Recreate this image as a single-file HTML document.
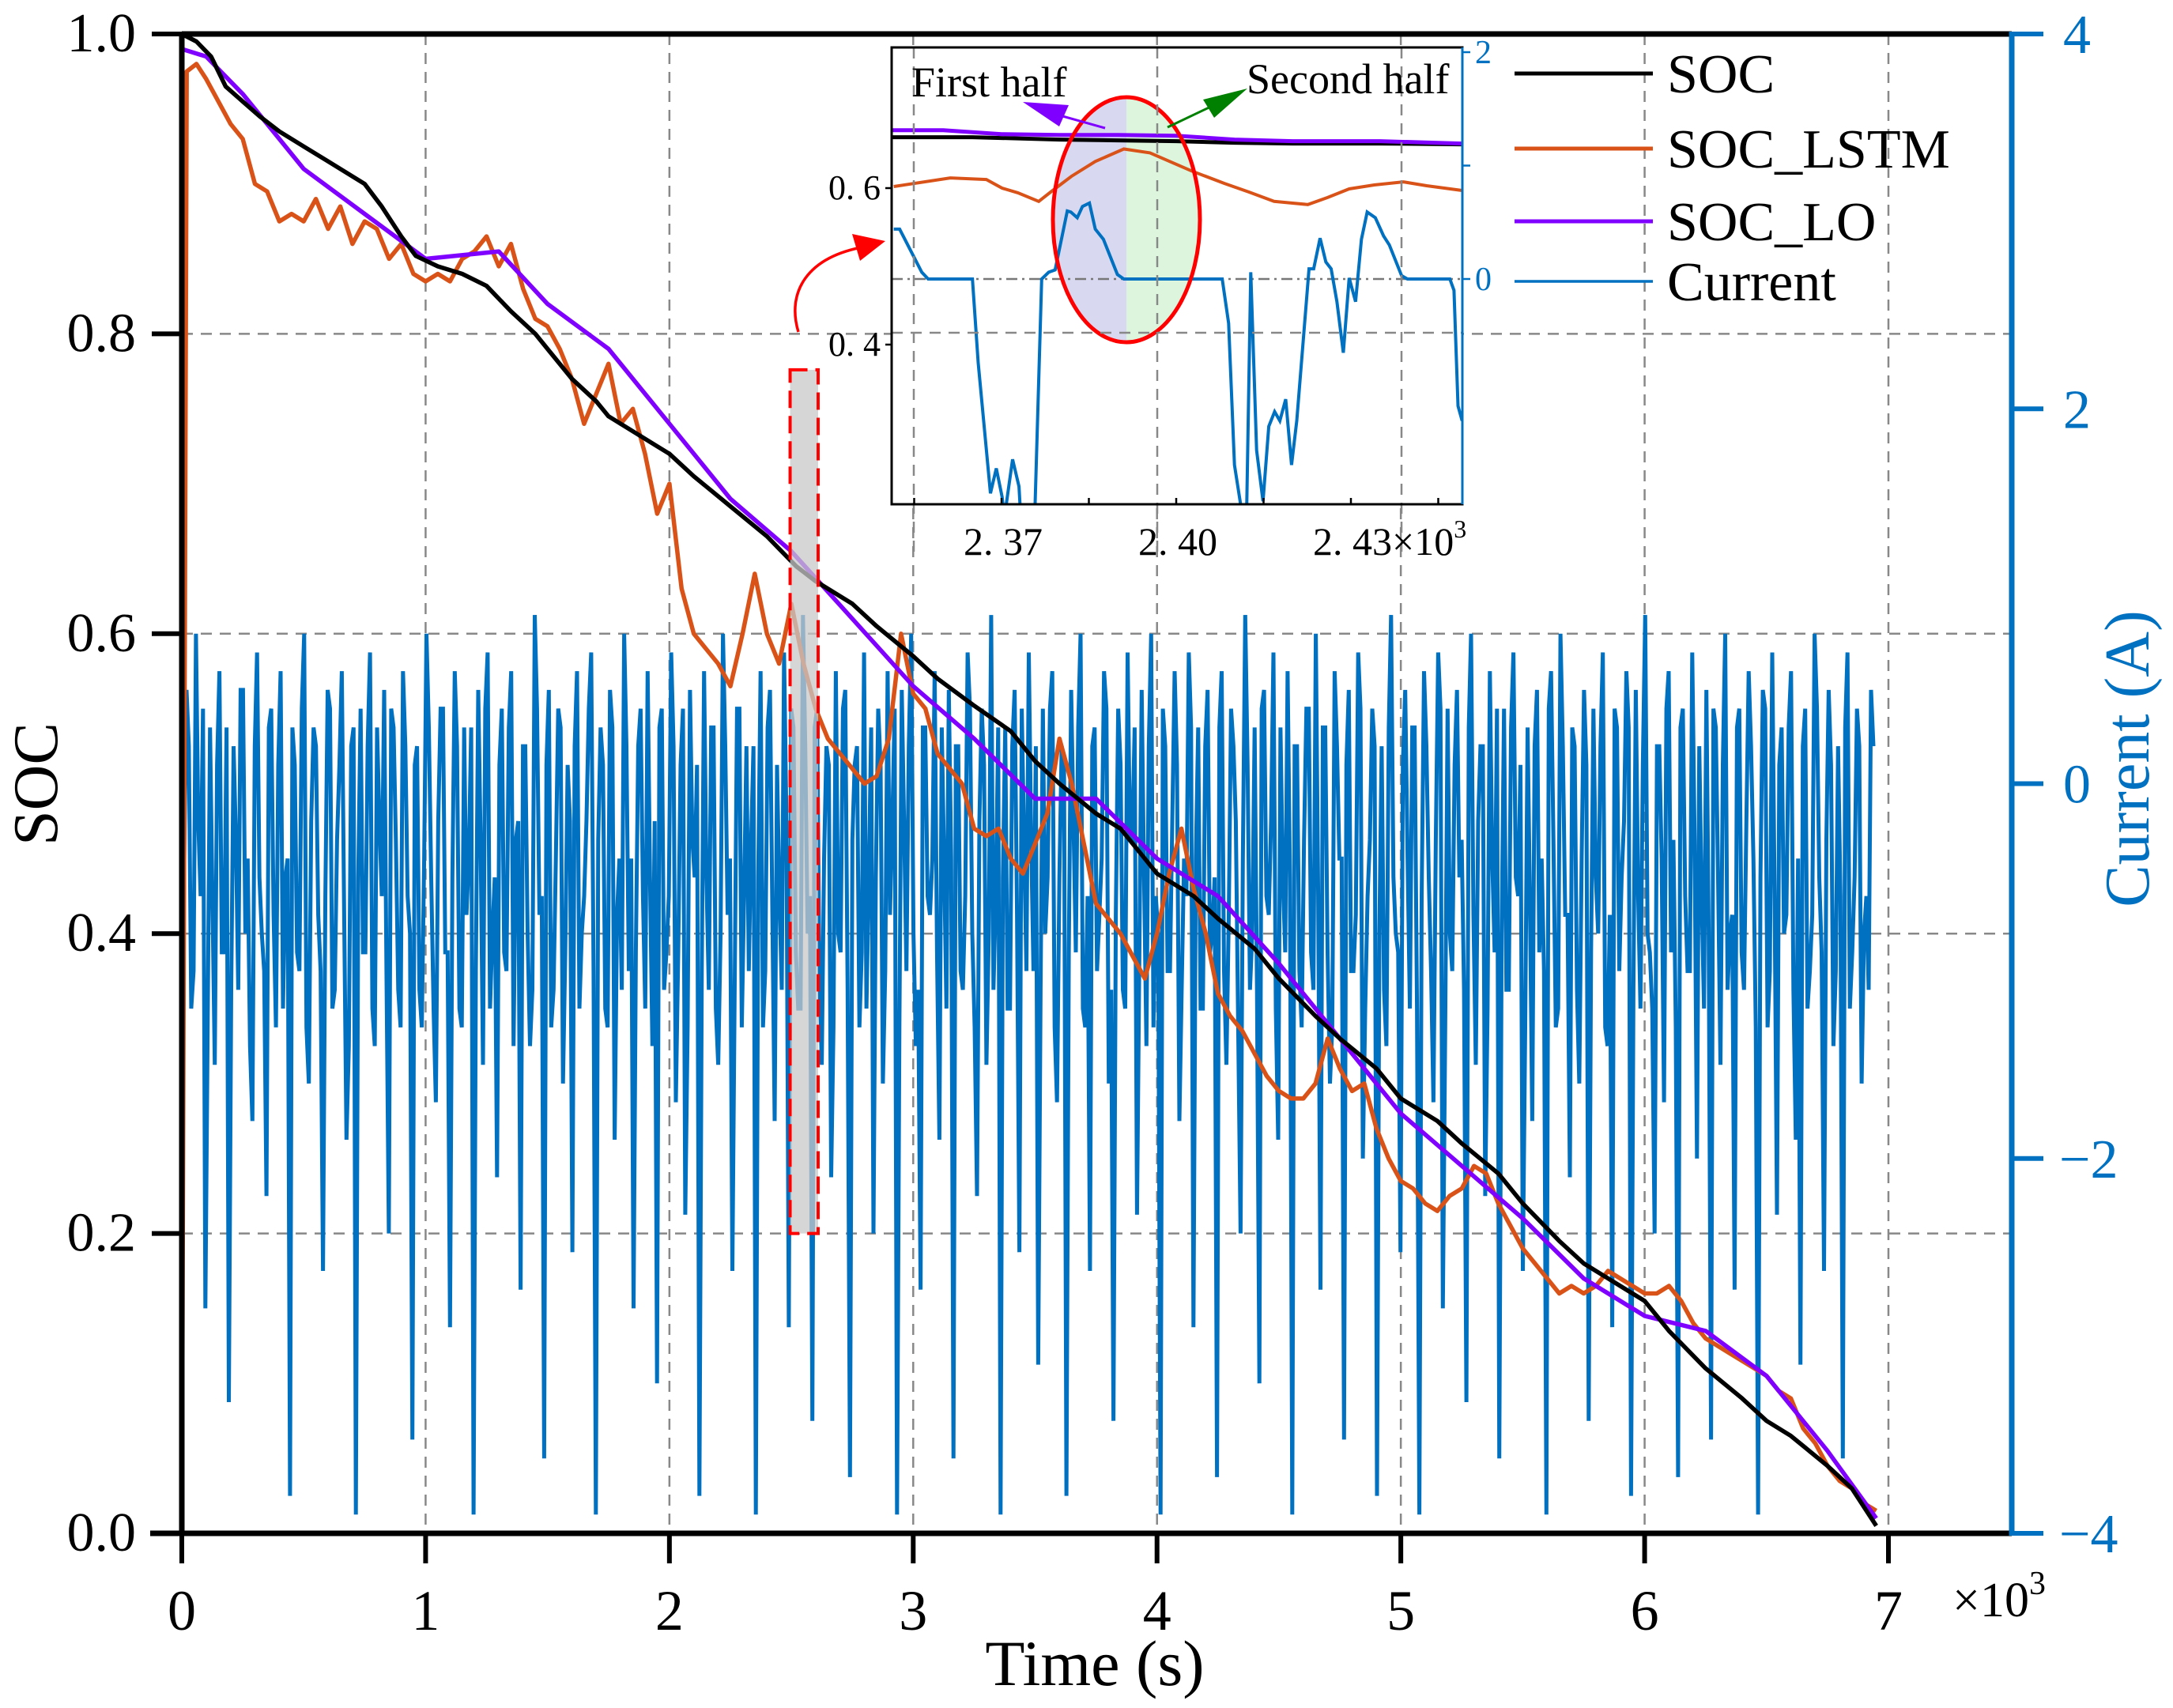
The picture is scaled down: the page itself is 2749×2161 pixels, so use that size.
<!DOCTYPE html>
<html><head><meta charset="utf-8">
<style>
html,body{margin:0;padding:0;background:#fff;}
svg{display:block;font-family:"Liberation Serif","Times New Roman",serif;}
</style></head>
<body>
<svg id="chart" width="2749" height="2161" viewBox="0 0 2749 2161" xmlns="http://www.w3.org/2000/svg">
<rect x="0" y="0" width="2749" height="2161" fill="#fff"/>
</svg>
<script>
// ---------- DATA ----------
const xTicks = [0,1000,2000,3000,4000,5000,6000,7000];
const xTickLabels = ["0","1","2","3","4","5","6","7"];
const socTicks = [0,0.2,0.4,0.6,0.8,1.0];
const socTickLabels = ["0.0","0.2","0.4","0.6","0.8","1.0"];
const curTicks = [-4,-2,0,2,4];
const curTickLabels = ["\u22124","\u22122","0","2","4"];

const socTime = [0,60,120,180,250,320,400,500,600,700,750,820,900,960,1050,1150,1250,1350,1450,1500,1600,1700,1750,1850,1950,2000,2100,2250,2400,2520,2600,2750,2850,3000,3100,3250,3400,3500,3600,3750,3850,4000,4150,4250,4400,4500,4650,4750,4900,5000,5150,5250,5400,5500,5650,5750,5900,6000,6100,6250,6400,6500,6600,6750,6850,6950];
const socValues = [1.0,0.995,0.985,0.965,0.955,0.945,0.935,0.925,0.915,0.905,0.9,0.885,0.865,0.852,0.845,0.84,0.832,0.815,0.8,0.79,0.77,0.755,0.745,0.735,0.725,0.72,0.705,0.685,0.665,0.645,0.635,0.62,0.605,0.585,0.57,0.552,0.535,0.515,0.5,0.48,0.47,0.44,0.425,0.41,0.39,0.37,0.345,0.33,0.31,0.29,0.275,0.26,0.24,0.22,0.195,0.18,0.165,0.155,0.135,0.11,0.09,0.075,0.065,0.045,0.03,0.005];

const loTime = [0,100,250,500,750,1000,1300,1500,1750,2000,2250,2500,2750,3000,3250,3500,3750,4000,4250,4500,4750,5000,5250,5500,5750,6000,6250,6500,6750,6950];
const loValues = [0.99,0.985,0.96,0.91,0.88,0.85,0.855,0.82,0.79,0.74,0.69,0.655,0.61,0.565,0.53,0.49,0.49,0.45,0.425,0.38,0.33,0.28,0.245,0.21,0.17,0.145,0.135,0.105,0.055,0.01];

const lstmTime = [0,20,60,100,150,200,250,300,350,400,450,500,550,600,650,700,750,800,850,900,950,1000,1050,1100,1150,1200,1250,1300,1350,1400,1450,1500,1550,1600,1650,1700,1750,1800,1850,1900,1950,2000,2050,2100,2150,2200,2250,2300,2350,2400,2450,2500,2550,2600,2650,2700,2750,2800,2850,2900,2950,3000,3050,3100,3150,3200,3250,3300,3350,3400,3450,3500,3550,3600,3650,3700,3750,3800,3850,3900,3950,4000,4050,4100,4150,4200,4250,4300,4350,4400,4450,4500,4550,4600,4650,4700,4750,4800,4850,4900,4950,5000,5050,5100,5150,5200,5250,5300,5350,5400,5450,5500,5550,5600,5650,5700,5750,5800,5850,5900,5950,6000,6050,6100,6150,6200,6250,6300,6350,6400,6450,6500,6550,6600,6650,6700,6750,6800,6850,6900,6950];
const lstmValues = [0.0,0.975,0.98,0.97,0.955,0.94,0.93,0.9,0.895,0.875,0.88,0.875,0.89,0.87,0.885,0.86,0.875,0.87,0.85,0.86,0.84,0.835,0.84,0.835,0.85,0.855,0.865,0.845,0.86,0.83,0.81,0.805,0.79,0.77,0.74,0.76,0.78,0.74,0.75,0.72,0.68,0.7,0.63,0.6,0.59,0.58,0.565,0.6,0.64,0.6,0.58,0.62,0.58,0.55,0.53,0.52,0.51,0.5,0.505,0.53,0.6,0.56,0.55,0.52,0.51,0.5,0.47,0.465,0.47,0.45,0.44,0.46,0.48,0.53,0.5,0.46,0.42,0.41,0.4,0.385,0.37,0.4,0.44,0.47,0.43,0.4,0.36,0.345,0.335,0.32,0.305,0.295,0.29,0.29,0.3,0.33,0.31,0.295,0.3,0.27,0.25,0.235,0.23,0.22,0.215,0.225,0.23,0.245,0.24,0.22,0.205,0.19,0.18,0.17,0.16,0.165,0.16,0.165,0.175,0.17,0.165,0.16,0.16,0.165,0.155,0.14,0.13,0.125,0.12,0.115,0.11,0.105,0.095,0.09,0.07,0.06,0.045,0.035,0.03,0.02,0.015];

const curDt = 19.3;
const curValues = [
-2.0,0.5,-1.2,0.8,-0.6,-2.8,0.3,-1.5,0.6,-0.9,-3.3,0.2,-1.1,0.5,-0.4,-1.8,0.7,-0.8,-2.2,0.4,
-1.3,0.6,-0.5,-3.8,0.1,-1.0,0.8,-1.6,0.3,-0.7,-2.6,0.5,-1.2,-0.3,0.6,-1.9,0.2,-3.9,0.4,-0.9,
0.7,-1.4,-0.2,0.5,-2.4,0.3,-1.1,0.6,-0.6,-3.5,0.2,-1.3,0.8,-0.5,-1.7,0.4,-0.9,-2.9,0.6,-1.2,
0.3,-0.4,-3.9,0.5,-1.5,0.7,-0.8,-2.1,0.4,-1.0,0.6,-0.3,-2.7,0.2,-1.4,0.9,-0.7,-3.6,0.5,-1.1,
0.4,-1.6,0.1,-2.5,0.6,-0.8,-0.2,0.7,-3.9,0.3,-1.2,0.5,-1.9,-0.4,0.8,-1.0,-2.8,0.2,-0.6,0.6,
-1.4,-3.2,0.4,-0.9,0.7,-1.7,0.1,-2.3,0.5,-0.5,-3.8,0.6,-1.1,0.3,-1.5,0.8,-0.7,-2.6,0.4,-1.3,
0.2,-0.3,-3.9,0.6,-1.0,0.5,-1.8,-0.6,0.7,-2.9,0.3,-1.2,0.9,-0.8,-3.4,0.4,-1.5,0.2,-2.1,0.6,
-0.9,0.5,-3.7,0.1,-1.3,0.7,-0.5,-2.4,0.4,-1.6,0.6,-0.2,-3.9,0.5,-1.0,0.8,-1.4,-2.7,0.3,-0.7,
0.6,-1.9,-0.4,0.5,-3.6,0.2,-1.1,0.7,-0.8,-2.2,0.4,-1.5,0.9,-0.6,-3.9,0.3,-1.2,0.5,-2.5,-0.3,
0.7,-1.0,-3.1,0.4,-0.5,0.6,-1.7,0.2,-3.8,0.5,-0.9,0.8,-1.3,-2.6,0.3,-0.7,0.6,-1.6,-3.4,0.4,
-1.1,0.7,-0.3,-2.3,0.5,-1.4,0.8,-0.6,-3.9,0.2,-1.0,0.6,-1.8,-0.4,0.7,-2.9,0.3,-1.2,0.5,-0.8,
-3.7,0.6,-1.5,0.4,-0.2,-2.4,0.9,-1.1,0.3,-3.2,0.5,-0.7,0.7,-1.9,-0.5,0.6,-3.9,0.2,-1.3,0.4,
-0.9,0.8,-2.7,0.3,-1.6,0.6,-0.4,-3.5,0.5,-1.0,0.7,-2.0,-0.6,0.4,-3.8,0.2,-1.4,0.9,-0.8,-2.5,
0.5,-1.2,0.3,-3.9,0.6,-0.5,-1.7,0.7,-2.8,0.4,-1.0,0.5,-0.3,-3.3,0.8,-1.5,0.2,-2.2,0.6,-0.9,
-3.6,0.4,-1.1,0.7,-0.6,-2.6,0.3,-1.8,0.5,-0.4,-3.9,0.6,-1.3,0.8,-0.7,-2.1,0.2,-1.6,0.5,-3.4,
0.4,-0.8,0.7,-1.4,-2.9,0.3,-0.5,0.6,-3.8,0.5,-1.2,0.9,-0.9,-2.4,0.2,-1.7,0.6,-0.3,-3.7,0.4,
-1.0,0.7,-2.0,-0.6,0.5,-3.5,0.3,-1.5,0.8,-0.8,-2.7,0.4,-1.1,0.6,-0.4,-3.9,0.5,-1.3,0.7,-2.3,
0.3,-0.7,0.6,-1.9,-3.1,0.4,-1.0,0.8,-0.5,-2.6,0.5,-1.4,0.2,-3.6,0.7,-0.9,0.4,-1.6,-0.6,0.5
];
const curValuesMid = [
-0.4,0.2,-1.0,-0.2,0.4,-1.3,-0.6,0.1,-0.9,0.3,-1.1,-0.3,0.5,-0.8,-1.4,0.2,-0.5,-1.0,0.3,-0.7,
0.1,-1.2,-0.4,0.3,-0.9,0.4,-1.3,-0.2,0.2,-1.0,-0.6,0.4,-1.1,0.1,-0.7,-1.4,0.3,-0.5,-0.9,0.2,
-1.2,0.3,-0.6,-1.0,0.4,-0.3,-1.3,0.2,-0.8,0.1,-1.1,-0.4,0.3,-1.2,-0.2,0.4,-0.9,-0.5,0.2,-1.3,
-0.7,0.3,-1.0,-0.3,0.4,-1.2,-0.5,0.1,-0.9,0.3,-1.4,-0.2,0.2,-0.8,-1.1,0.4,-0.6,0.1,-1.3,-0.4,
0.3,-0.9,-0.2,0.2,-1.2,-0.6,0.4,-1.0,-0.3,0.1,-1.3,0.3,-0.7,-1.1,0.2,-0.4,-0.9,0.4,-1.2,-0.5,
-0.2,0.3,-1.1,-0.6,0.2,-0.9,0.4,-1.3,-0.3,0.1,-1.0,-0.5,0.3,-1.2,-0.8,0.2,-0.4,-1.1,0.4,-0.6,
-1.0,0.2,-0.5,-1.3,0.3,-0.7,0.1,-1.1,-0.2,0.4,-0.9,-1.2,0.2,-0.6,0.3,-1.0,-0.4,0.1,-1.3,-0.8,
0.4,-1.1,-0.3,0.2,-0.9,-1.2,0.3,-0.5,0.1,-1.0,-0.7,0.4,-1.3,-0.2,0.2,-0.8,-1.1,0.3,-0.6,-0.4,
-0.9,0.3,-1.2,-0.4,0.2,-1.0,-0.6,0.4,-1.3,-0.2,0.1,-0.8,-1.1,0.3,-0.5,-1.2,0.2,-0.7,0.4,-1.0,
-0.3,0.2,-1.1,-0.8,0.4,-1.3,-0.5,0.1,-0.9,-0.2,0.3,-1.2,-0.6,0.2,-1.0,-0.4,0.4,-1.1,-0.7,0.1,
-1.2,-0.3,0.3,-0.9,-0.5,0.2,-1.3,-0.8,0.4,-1.0,-0.2,0.1,-1.1,-0.6,0.3,-0.4,-1.2,0.2,-0.9,-0.5,
0.3,-1.0,-0.7,0.2,-1.3,-0.4,0.1,-0.8,-1.1,0.4,-0.6,-0.2,-1.2,0.3,-0.9,-0.5,0.2,-1.0,-0.3,0.4,
-1.1,-0.6,0.3,-0.9,-1.3,0.2,-0.4,0.1,-1.0,-0.7,0.4,-1.2,-0.3,0.2,-0.8,-1.1,0.3,-0.5,-0.9,0.1,
-0.4,0.3,-1.2,-0.6,0.2,-1.0,-0.3,0.4,-1.3,-0.8,0.1,-0.5,-1.1,0.3,-0.7,-0.2,0.2,-1.2,-0.4,0.4,
-0.8,-1.1,0.3,-0.5,0.1,-1.3,-0.6,0.2,-0.9,-1.0,0.4,-0.3,-1.2,0.2,-0.7,0.3,-1.1,-0.4,0.1,-0.9,
-0.5,0.2,-1.3,-0.7,0.4,-1.0,-0.2,0.3,-1.1,-0.6,0.1,-0.8,-1.2,0.2,-0.4,0.4,-0.9,-1.3,0.3,-0.6,
-1.0,-0.3,0.2,-1.2,-0.8,0.4,-0.5,0.1,-1.1,-0.7,0.3,-0.9,-0.2,0.2,-1.3,-0.5,0.4,-1.0,-0.6,0.1,
-0.8,0.3,-1.1,-0.4,0.2,-1.2,-0.7,0.4,-0.9,-0.3,0.1,-1.0,-0.6,0.3,-1.2,-0.5,0.2,-0.8,-1.1,0.2
];

// inset data
const insetXTicks = [2355,2370,2385,2400,2415,2430,2445];
const insetXLabels = {2370:"2. 37",2400:"2. 40",2430:"2. 43\u00D710"};
const insetSocTicks = [0.4,0.6];
const insetSocLabels = ["0. 4","0. 6"];
const insetCurTicks = [0,1,2];
const insetCurLabels = {0:"0",2:"2"};
const inSocTime = [2351,2365,2380,2390,2400,2410,2420,2435,2449];
const inSocValues = [0.665,0.665,0.662,0.661,0.66,0.658,0.657,0.657,0.656];
const inLoTime = [2351,2360,2370,2380,2390,2400,2410,2420,2435,2449];
const inLoValues = [0.674,0.674,0.669,0.668,0.668,0.667,0.662,0.66,0.66,0.657];
const inLstmTime = [2351.5,2361.2,2367.4,2370.1,2372.8,2376.4,2378.6,2382,2386.1,2391,2395.5,2402.6,2408.3,2412.5,2416.8,2422.6,2426,2429.7,2434,2439,2443,2449.1];
const inLstmValues = [0.602,0.613,0.611,0.6,0.594,0.583,0.596,0.615,0.634,0.65,0.645,0.622,0.606,0.595,0.583,0.579,0.588,0.599,0.604,0.608,0.603,0.597];
const inCurTime = [2351.5,2352.5,2356.3,2357.4,2365.0,2366.0,2368.1,2369.1,2370.1,2370.5,2371.9,2373.0,2373.3,2375.7,2376.9,2378.1,2379.2,2381.3,2381.9,2383.0,2383.9,2385.1,2386.1,2387.5,2389.9,2391.0,2406.9,2407.9,2409.0,2410.0,2411.4,2412.1,2412.8,2413.8,2414.9,2415.9,2416.9,2417.8,2418.8,2419.8,2420.7,2422.8,2423.6,2424.7,2425.7,2426.6,2427.6,2428.7,2429.7,2430.8,2431.8,2432.8,2434.2,2435.6,2436.6,2438.7,2439.7,2447.0,2447.7,2448.4,2449.1];
const inCurValues = [0.44,0.44,0.06,0.0,0.0,-0.74,-1.89,-1.67,-1.92,-2.1,-1.59,-1.83,-2.1,-2.1,0.0,0.06,0.08,0.6,0.59,0.54,0.64,0.67,0.44,0.35,0.04,0.0,0.0,0.0,-0.39,-1.64,-2.1,-2.05,0.06,-1.51,-1.96,-1.3,-1.17,-1.25,-1.06,-1.64,-1.25,0.09,0.09,0.36,0.15,0.09,-0.2,-0.65,0.01,-0.2,0.35,0.59,0.54,0.38,0.3,0.03,0.0,0.0,-0.1,-1.12,-1.25];

// ---------- DRAW ----------
const NS = "http://www.w3.org/2000/svg";
const svg = document.getElementById("chart");
function mk(tag, attrs, parent){ const e=document.createElementNS(NS,tag); for(const k in attrs) e.setAttribute(k,attrs[k]); (parent||svg).appendChild(e); return e; }

const L=230,R=2545,T=43,B=1940;
const xS = t => L + t*(2389-L)/7000;
const yS = v => B - v*(B-T);
const yC = c => B - (c+4)*(B-T)/8;
const BLUE="#0070C0";

const defs = mk("defs",{});
const cp = mk("clipPath",{id:"plotclip"},defs); mk("rect",{x:L,y:T,width:R-L,height:B-T},cp);
const cp2 = mk("clipPath",{id:"insetclip"},defs);

const grid = mk("g",{});


xTicks.slice(1).forEach(t=>{ const l=mk("line",{x1:xS(t),x2:xS(t),y1:T,y2:B,stroke:"#888","stroke-width":2.5,"stroke-dasharray":"14,10"},grid);
 });
socTicks.slice(1,5).forEach(v=>{ const l=mk("line",{x1:L,x2:R,y1:yS(v),y2:yS(v),stroke:"#888","stroke-width":2.5,"stroke-dasharray":"14,10"},grid);
 });

let d="";
curValues.forEach((c,i)=>{
  d+=(i?"L":"M")+xS(i*curDt).toFixed(1)+","+yC(c).toFixed(1);
  if(i<curValuesMid.length) d+="L"+xS((i+0.5)*curDt).toFixed(1)+","+yC(curValuesMid[i]).toFixed(1);
});
const curPath = mk("path",{d:d,fill:"none",stroke:BLUE,"stroke-width":5,"stroke-linejoin":"miter","clip-path":"url(#plotclip)"});



function pathFrom(ts,vs,fx,fy){ return ts.map((t,i)=>(i?"L":"M")+fx(t).toFixed(1)+","+fy(vs[i]).toFixed(1)).join(""); }
const lstm = mk("path",{d:pathFrom(lstmTime,lstmValues,xS,yS),fill:"none",stroke:"#D95319","stroke-width":5.5,"stroke-linejoin":"round"});


const lo = mk("path",{d:pathFrom(loTime,loValues,xS,yS),fill:"none",stroke:"#8000FF","stroke-width":5.5,"stroke-linejoin":"round"});


const soc = mk("path",{d:pathFrom(socTime,socValues,xS,yS),fill:"none",stroke:"#000","stroke-width":5.5,"stroke-linejoin":"round"});



const hl = mk("rect",{x:xS(2495),y:yS(0.776),width:xS(2610)-xS(2495),height:yS(0.2)-yS(0.776),fill:"rgba(200,200,200,0.75)",stroke:"#f00","stroke-width":4,"stroke-dasharray":"22,10"});


const arr = mk("path",{d:"M1010,420 C995,370 1020,325 1095,312",fill:"none",stroke:"#f00","stroke-width":3.5});


const arrH = mk("polygon",{points:"1120,305 1078,296 1088,330",fill:"#f00"});



const axes = mk("g",{});


mk("line",{x1:L,x2:R,y1:T,y2:T,stroke:"#000","stroke-width":7},axes);
mk("line",{x1:L-40,x2:R,y1:B,y2:B,stroke:"#000","stroke-width":7},axes);
mk("line",{x1:L,x2:L,y1:T-3,y2:B+3,stroke:"#000","stroke-width":7},axes);
mk("line",{x1:R,x2:R,y1:T-3,y2:B+3,stroke:BLUE,"stroke-width":7},axes);
xTicks.forEach((t,i)=>{
  mk("line",{x1:xS(t),x2:xS(t),y1:B,y2:B+38,stroke:"#000","stroke-width":6},axes);
  const tx=mk("text",{x:xS(t),y:2062,"font-size":72,"text-anchor":"middle",fill:"#000"},axes); tx.textContent=xTickLabels[i];
   
});
socTicks.forEach((v,i)=>{
  mk("line",{x1:L-38,x2:L,y1:yS(v),y2:yS(v),stroke:"#000","stroke-width":6},axes);
  const tx=mk("text",{x:172,y:yS(v)+22,"font-size":70,"text-anchor":"end",fill:"#000"},axes); tx.textContent=socTickLabels[i];
   
});
curTicks.forEach((c,i)=>{
  mk("line",{x1:R,x2:R+40,y1:yC(c),y2:yC(c),stroke:BLUE,"stroke-width":6},axes);
  const tx=mk("text",{x:c<0?2605:2610,y:yC(c)+24,"font-size":70,"text-anchor":"start",fill:BLUE},axes); tx.textContent=curTickLabels[i];
   
});
</script>
<script>
(function(){
const NS="http://www.w3.org/2000/svg", svg=document.getElementById("chart");
function mk(tag, attrs, parent){ const e=document.createElementNS(NS,tag); for(const k in attrs) e.setAttribute(k,attrs[k]); (parent||svg).appendChild(e); return e; }
const BLUE="#0070C0";
let t;
t=mk("text",{x:2470,y:2045,"font-size":62}); t.innerHTML='\u00D710<tspan dy="-28" font-size="42">3</tspan>';
 
t=mk("text",{x:1385,y:2132,"font-size":82,"text-anchor":"middle"}); t.textContent="Time (s)";
 
t=mk("text",{x:0,y:0,"font-size":80,"text-anchor":"middle",transform:"translate(72,992) rotate(-90)"}); t.textContent="SOC";
 
t=mk("text",{x:0,y:0,"font-size":80,"text-anchor":"middle",fill:BLUE,transform:"translate(2718,960) rotate(-90)"}); t.textContent="Current (A)";
 

const leg=[["SOC","#000",93,5],["SOC_LSTM","#D95319",188,5],["SOC_LO","#8000FF",280,5],["Current",BLUE,356,3.5]];
const lg=mk("g",{});
 
leg.forEach(e=>{
  const g=mk("g",{},lg);
   
  mk("line",{x1:1916,x2:2091,y1:e[2],y2:e[2],stroke:e[1],"stroke-width":e[3]},g);
  const tx=mk("text",{x:2109,y:e[2]+24,"font-size":70},g); tx.textContent=e[0];
});

const IL=1128,IR=1850,IT=60,IB=638;
const ix = v => 1267 + (v-2370)*(221/30);
const iy = v => 238 - (v-0.6)*990;
const ic = c => 353 - c*143.5;
const ins=mk("g",{});
 
mk("rect",{x:IL,y:IT,width:IR-IL,height:IB-IT,fill:"#fff"},ins);
const cr=document.createElementNS(NS,"rect");
cr.setAttribute("x",IL);cr.setAttribute("y",IT);cr.setAttribute("width",IR-IL);cr.setAttribute("height",IB-IT);
document.getElementById("insetclip").appendChild(cr);
const ig=mk("g",{"clip-path":"url(#insetclip)"},ins);
const cx=1425,cy=278,rx=93,ry=155;
const e1=mk("path",{d:`M${cx},${cy-ry} A${rx},${ry} 0 0 0 ${cx},${cy+ry} Z`,fill:"#D8D8F0"},ig);
 
const e2=mk("path",{d:`M${cx},${cy-ry} A${rx},${ry} 0 0 1 ${cx},${cy+ry} Z`,fill:"#DDF5DD"},ig);
 
mk("line",{x1:IL,x2:IR,y1:ic(0),y2:ic(0),stroke:"#777","stroke-width":2.5,"stroke-dasharray":"14,6,3,6"},ig);
function pf(ts,vs,fx,fy){return ts.map((q,i)=>(i?"L":"M")+fx(q).toFixed(1)+","+fy(vs[i]).toFixed(1)).join("");}
let p;
p=mk("path",{d:pf(inCurTime,inCurValues,ix,ic),fill:"none",stroke:BLUE,"stroke-width":4},ig);
 
p=mk("path",{d:pf(inLstmTime,inLstmValues,ix,iy),fill:"none",stroke:"#D95319","stroke-width":4},ig);
 
p=mk("path",{d:pf(inSocTime,inSocValues,ix,iy),fill:"none",stroke:"#000","stroke-width":5},ig);
 
p=mk("path",{d:pf(inLoTime,inLoValues,ix,iy),fill:"none",stroke:"#8000FF","stroke-width":5},ig);
 
const el=mk("ellipse",{cx:cx,cy:cy,rx:rx,ry:ry,fill:"none",stroke:"#f00","stroke-width":5},ig);
 
[1156,1464,1773].forEach(x=>mk("line",{x1:x,x2:x,y1:IT,y2:IB+70,stroke:"#888","stroke-width":2.5,"stroke-dasharray":"14,10"},ins));
mk("line",{x1:IL,x2:IR,y1:421,y2:421,stroke:"#888","stroke-width":2.5,"stroke-dasharray":"14,10"},ins);
mk("rect",{x:IL,y:IT,width:IR-IL,height:IB-IT,fill:"none",stroke:"#000","stroke-width":3},ins);
mk("line",{x1:IR,x2:IR,y1:IT,y2:IB,stroke:BLUE,"stroke-width":3},ins);
insetXTicks.forEach(v=>{
  mk("line",{x1:ix(v),x2:ix(v),y1:IB,y2:IB-8,stroke:"#000","stroke-width":2.5},ins);
  if(insetXLabels[v]){ const tx=mk("text",{x:ix(v)-48,y:702,"font-size":50},ins);
    tx.textContent=insetXLabels[v];
    if(v===2430){ const s=document.createElementNS(NS,"tspan"); s.setAttribute("dy","-22"); s.setAttribute("font-size","32"); s.textContent="3"; tx.appendChild(s);}
     }
});
insetSocTicks.forEach((v,i)=>{
  mk("line",{x1:IL-8,x2:IL,y1:iy(v),y2:iy(v),stroke:"#000","stroke-width":2.5},ins);
  const tx=mk("text",{x:IL-14,y:iy(v)+14,"font-size":44,"text-anchor":"end"},ins); tx.textContent=insetSocLabels[i];
   
});
insetCurTicks.forEach(c=>{
  mk("line",{x1:IR,x2:IR+10,y1:ic(c),y2:ic(c),stroke:BLUE,"stroke-width":2.5},ins);
  if(insetCurLabels[c]!==undefined){ const tx=mk("text",{x:IR+16,y:ic(c)+14,"font-size":42,fill:BLUE},ins); tx.textContent=insetCurLabels[c];
   }
});
t=mk("text",{x:1153,y:122,"font-size":54},ins); t.textContent="First half";
 
t=mk("text",{x:1577,y:118,"font-size":54},ins); t.textContent="Second half";
 
mk("line",{x1:1398,y1:162,x2:1330,y2:143,stroke:"#8000FF","stroke-width":3},ins);
mk("polygon",{points:"1294,129 1352,133 1340,160",fill:"#8000FF"},ins);
mk("line",{x1:1477,y1:161,x2:1540,y2:131,stroke:"#008000","stroke-width":3},ins);
mk("polygon",{points:"1578,112 1522,126 1536,149",fill:"#008000"},ins);
})();
</script>
</body></html>
